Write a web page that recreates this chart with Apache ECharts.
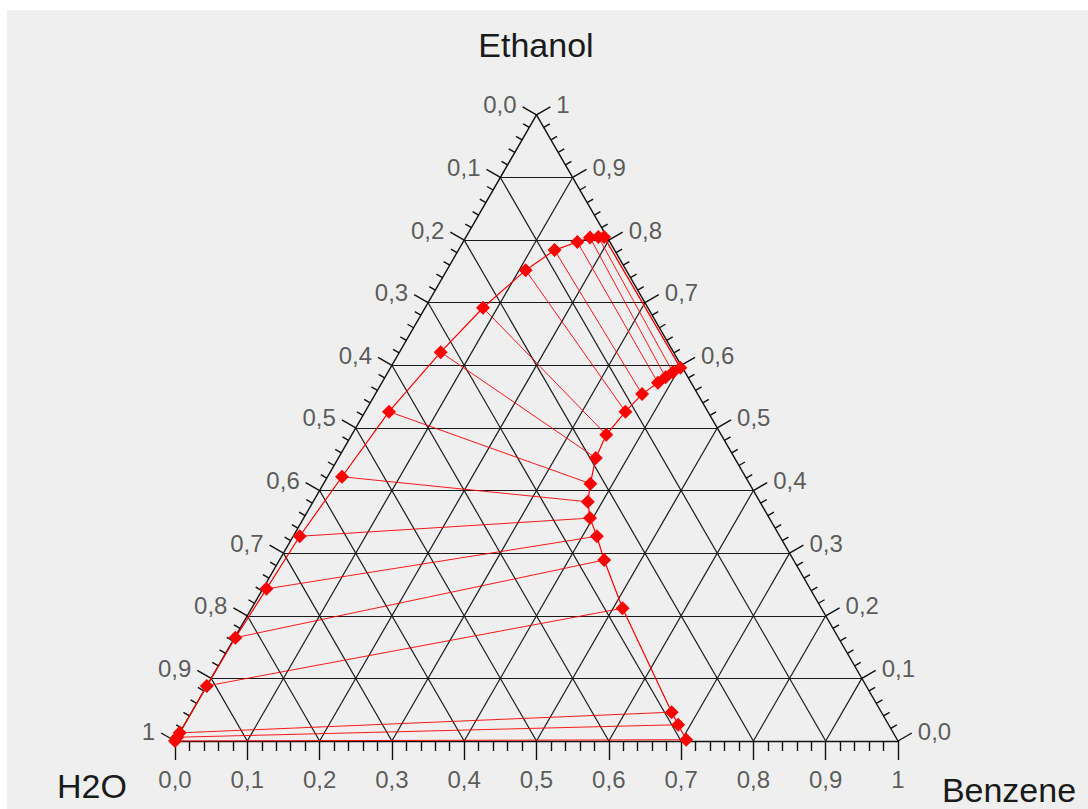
<!DOCTYPE html>
<html><head><meta charset="utf-8">
<script src="https://cdn.jsdelivr.net/npm/echarts@6/dist/echarts.min.js"></script>
<style>
html,body{margin:0;padding:0;background:#fff;}
#bg{position:absolute;left:7px;top:10px;width:1081px;height:799px;background:#efefef;}
#chart{position:absolute;left:0;top:0;width:1088px;height:809px;}
</style>
</head><body><div id="bg"></div><div id="chart"></div>
<script>
// ---- data (mass fractions) ----
const tickLabels = ['0,0','0,1','0,2','0,3','0,4','0,5','0,6','0,7','0,8','0,9','1'];
const titleTop = 'Ethanol';
const titleLeft = 'H2O';
const titleRight = 'Benzene';
// water-rich branch (bottom -> top)
const leftBenzene = [0.000,0.000,0.000,0.000,0.001,0.005,0.009,0.020,0.033,0.057,0.080,0.109,0.133,0.158,0.172,0.183,0.191];
const leftEthanol = [0.000,0.006,0.013,0.088,0.165,0.243,0.327,0.422,0.526,0.621,0.692,0.752,0.784,0.797,0.804,0.805,0.805];
// benzene-rich branch (tie-line partners, same order)
const rightBenzene = [0.706,0.683,0.664,0.513,0.449,0.420,0.396,0.380,0.369,0.356,0.352,0.360,0.369,0.382,0.388,0.394,0.401];
const rightEthanol = [0.002,0.026,0.046,0.212,0.289,0.327,0.356,0.382,0.411,0.452,0.489,0.526,0.554,0.572,0.581,0.589,0.596];

// ---- geometry helpers ----
const S = 723;            // pixels per unit side
const OX = 175, OY = 741; // H2O vertex in pixels
const W = 1088, H = 809;
const R3 = Math.sqrt(3) / 2;
function xy(b, e) { return [b + e / 2, e * R3]; }
function px(p) { return p / S; }

const gridLines = [];
for (let k = 1; k <= 9; k++) {
  const t = k / 10;
  gridLines.push({coords: [xy(0, t), xy(1 - t, t)]});          // const ethanol
  gridLines.push({coords: [xy(t, 0), xy(t, 1 - t)]});          // const benzene
  gridLines.push({coords: [xy(1 - t, 0), xy(0, 1 - t)]});      // const water
}
const frame = [
  {coords: [xy(0, 0), xy(1, 0)]},
  {coords: [xy(1, 0), xy(0, 1)]},
  {coords: [xy(0, 1), xy(0, 0)]}
];
const nBot = [0, -1], nLeft = [-R3, 0.5], nRight = [R3, 0.5];
function off(p, n, len) { return [p[0] + n[0] * px(len), p[1] + n[1] * px(len)]; }
const ticks = [];
for (let i = 0; i <= 50; i++) {
  const t = i / 50, major = i % 5 === 0;
  const pb = xy(t, 0), pl = xy(0, 1 - t), pr = xy(1 - t, t);
  ticks.push({coords: [pb, off(pb, nBot, major ? 19 : 10)]});
  ticks.push({coords: [pl, off(pl, nLeft, major ? 16 : 7)]});
  ticks.push({coords: [pr, off(pr, nRight, major ? 16 : 7)]});
}
const botLab = [], leftLab = [], rightLab = [];
tickLabels.forEach((lab, k) => {
  const t = k / 10;
  botLab.push({name: lab, value: off(xy(t, 0), nBot, 19)});
  leftLab.push({name: lab, value: off(xy(0, 1 - t), nLeft, 16)});
  rightLab.push({name: lab, value: off(xy(1 - t, t), nRight, 16)});
});
const curve = [];
for (let i = 0; i < leftBenzene.length; i++) curve.push(xy(leftBenzene[i], leftEthanol[i]));
for (let i = rightBenzene.length - 1; i >= 0; i--) curve.push(xy(rightBenzene[i], rightEthanol[i]));
const ties = leftBenzene.map((b, i) => ({coords: [xy(b, leftEthanol[i]), xy(rightBenzene[i], rightEthanol[i])]}));

const FONT = 'Liberation Sans, Arial, sans-serif';
const labStyle = {color: '#333', fontFamily: FONT, fontSize: 24};
function labelSeries(data, pos, offset) {
  return {type: 'scatter', data, symbolSize: 0, silent: true, z: 5,
    label: Object.assign({show: true, position: pos, distance: 6, offset, formatter: p => p.name}, labStyle)};
}

const chart = echarts.init(document.getElementById('chart'), null, {renderer: 'svg'});
chart.setOption({
  backgroundColor: 'transparent',
  animation: false,
  grid: {left: 0, top: 0, width: W, height: H},
  xAxis: {type: 'value', min: -OX / S, max: (W - OX) / S, show: false},
  yAxis: {type: 'value', min: -(H - OY) / S, max: OY / S, show: false},
  graphic: [
    {type: 'text', style: {text: titleTop, x: 536, y: 45, textAlign: 'center', textVerticalAlign: 'middle', font: '34px ' + FONT, fill: '#1a1a1a'}},
    {type: 'text', style: {text: titleLeft, x: 92, y: 786, textAlign: 'center', textVerticalAlign: 'middle', font: '34px ' + FONT, fill: '#1a1a1a'}},
    {type: 'text', style: {text: titleRight, x: 1009, y: 790, textAlign: 'center', textVerticalAlign: 'middle', font: '34px ' + FONT, fill: '#1a1a1a'}}
  ],
  series: [
    {type: 'lines', coordinateSystem: 'cartesian2d', data: gridLines, silent: true, z: 1,
      lineStyle: {color: '#1a1a1a', width: 1.2, opacity: 1}},
    {type: 'lines', coordinateSystem: 'cartesian2d', data: frame.concat(ticks), silent: true, z: 2,
      lineStyle: {color: '#111', width: 1.4, opacity: 1}},
    {type: 'lines', coordinateSystem: 'cartesian2d', data: ties, silent: true, z: 3,
      lineStyle: {color: '#f00', width: 1, opacity: 0.9}},
    {type: 'line', data: curve, z: 4, silent: true, clip: false,
      lineStyle: {color: '#f00', width: 1.2},
      symbol: 'diamond', symbolSize: 14, showAllSymbol: true,
      itemStyle: {color: '#f00'}},
    labelSeries(botLab, 'bottom', [0, 1]),
    labelSeries(leftLab, 'left', [0, -2]),
    labelSeries(rightLab, 'right', [0, -2])
  ]
});
</script>
</body></html>
